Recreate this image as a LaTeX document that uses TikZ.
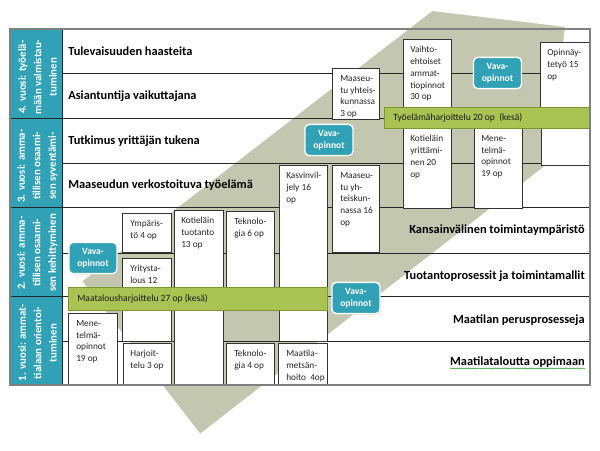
\documentclass[tikz,border=0pt]{standalone}
\usepackage{fontspec}
\setmainfont{Carlito}
\usetikzlibrary{decorations.pathmorphing, shadows}

\definecolor{yearteal}{RGB}{49,161,181}
\definecolor{bandgray}{RGB}{196,199,175}
\definecolor{bargreen}{RGB}{170,196,84}
\definecolor{barline}{RGB}{124,150,50}
\definecolor{framegray}{RGB}{128,128,128}

\tikzset{
  rowline/.style={black!85, line width=0.6pt},
  frameline/.style={framegray, line width=0.9pt},
  coursebox/.style={draw=black!80, fill=white, line width=0.6pt,
    drop shadow={shadow xshift=0.7pt, shadow yshift=-0.7pt, opacity=0.3}},
  coursetext/.style={anchor=north west, inner sep=0pt, align=left, text=black!85, font=\fontsize{6.6}{8.4}\selectfont},
  rowlabel/.style={inner sep=0pt, font=\fontsize{8.8}{10}\selectfont\bfseries},
  yeartext/.style={rotate=90, align=center, text=white, inner sep=0pt, font=\fontsize{7.7}{11}\selectfont\bfseries},
  vavabox/.style={draw=white, line width=1pt, fill=yearteal, rounded corners=3pt, minimum width=1.2cm, minimum height=0.78cm, align=center, text=white, inner sep=0pt, font=\fontsize{6.8}{8.8}\selectfont\bfseries,
    drop shadow={shadow xshift=0.7pt, shadow yshift=-0.7pt, opacity=0.3}},
  harjbar/.style={draw=barline, fill=bargreen, line width=0.6pt},
  bartext/.style={anchor=west, inner sep=0pt, text=black!90, font=\fontsize{6.8}{8}\selectfont},
}

\begin{document}
\begin{tikzpicture}[x=0.025cm, y=-0.025cm]
	\useasboundingbox[fill=white] (0,0) rectangle (600,450);
	
	% diagonal band behind the table
	\fill[bandgray] (81,281) -- (432,10) -- (566,26) -- (550,163) -- (200,435) -- cycle;
	\draw[white, line width=1.3pt] (81,281) -- (432,10) -- (566,26) -- (550,163) -- (200,435) -- cycle;
	
	% year column
	\fill[yearteal] (10,29) rectangle (62,385);
	
	% row lines
	\foreach \y in {73,163,253,341}
		\draw[rowline] (62,\y) -- (590,\y);
	\foreach \y in {118,207,296}
		\draw[rowline] (10,\y) -- (590,\y);
	\draw[rowline] (62,29) -- (62,385);
	
	% course boxes
	\draw[coursebox] (332,68) rectangle (379,119);
	\draw[coursebox] (403,39) rectangle (451,107);
	\draw[coursebox] (540,42) rectangle (590,107);
	\draw[coursebox] (403,128) rectangle (451,208);
	\draw[coursebox] (474,128) rectangle (522,208);
	\draw[coursebox] (541,128) rectangle (590,165);
	\draw[coursebox] (279,165) rectangle (327,341);
	\draw[coursebox] (332,165) rectangle (379,252);
	\draw[coursebox] (226,211) rectangle (274,287);
	\draw[coursebox] (174,210) rectangle (223,385);
	\draw[coursebox] (122,213) rectangle (171,252);
	\draw[coursebox] (122,258) rectangle (171,341);
	\draw[coursebox] (68,313) rectangle (117,385);
	\draw[coursebox] (123,343) rectangle (171,385);
	\draw[coursebox] (226,343) rectangle (274,385);
	\draw[coursebox] (278,343) rectangle (327,385);
	
	\node[coursetext] (maaseutu3)  at (340,75)  {Maaseu-\\tu yhteis-\\kunnassa\\3 op};
	\node[coursetext] (vaihto)     at (410,46)  {Vaihto-\\ehtoiset\\ammat-\\tiopinnot\\30 op};
	\node[coursetext] (opinnay)    at (547,49)  {Opinnäy-\\tetyö 15\\op};
	\node[coursetext] (kotiyritt)  at (410,135) {Kotieläin\\yrittämi-\\nen 20\\op};
	\node[coursetext] (menetelma4) at (481,135) {Mene-\\telmä-\\opinnot\\19 op};
	\node[coursetext] (kasvin)     at (286,172) {Kasvinvil-\\jely 16\\op};
	\node[coursetext] (maaseutu16) at (340,172) {Maaseu-\\tu yh-\\teiskun-\\nassa 16\\op};
	\node[coursetext] (tekno6)     at (234,218) {Teknolo-\\gia 6 op};
	\node[coursetext] (kotituot)   at (181,217) {Kotieläin\\tuotanto\\13 op};
	\node[coursetext] (ymparisto)  at (130,220) {Ympäris-\\tö 4 op};
	\node[coursetext] (yritys)     at (130,265) {Yritysta-\\lous 12};
	\node[coursetext] (menetelma1) at (76,320)  {Mene-\\telmä-\\opinnot\\19 op};
	\node[coursetext] (harjoit)    at (130,350) {Harjoit-\\telu 3 op};
	\node[coursetext] (tekno4)     at (234,350) {Teknolo-\\gia 4 op};
	\node[coursetext] (metsa)      at (286,350) {Maatila-\\metsän-\\hoito\ \ 4op};
	
	% practical training bars
	\draw[harjbar] (384,107) rectangle (590,128);
	\draw[harjbar] (68,287) rectangle (327,310);
	\node[bartext] (harj4) at (393,117.5) {Työelämäharjoittelu 20 op\ \ (kesä)};
	\node[bartext] (harj1) at (77,298.5)  {Maatalousharjoittelu 27 op (kesä)};
	
	% outer frame
	\draw[frameline] (10,29) rectangle (590,385);
	
	% vava boxes
	\node[vavabox] (vava4) at (497.5,73) {Vava-\\opinnot};
	\node[vavabox] (vava3) at (329,140)  {Vava-\\opinnot};
	\node[vavabox] (vava2) at (93,258)   {Vava-\\opinnot};
	\node[vavabox] (vava1) at (356,298)  {Vava-\\opinnot};
	
	% years
	\node[yeartext] (year4) at (37.5,77)  {4. vuosi: työelä-\\mään valmistau-\\tuminen};
	\node[yeartext] (year3) at (37.5,166) {3. vuosi: amma-\\tillisen osaami-\\sen syventämi-};
	\node[yeartext] (year2) at (37.5,253) {2. vuosi: amma-\\tillisen osaami-\\sen kehittyminen};
	\node[yeartext] (year1) at (37.5,343) {1. vuosi: ammat-\\tialaan orientoi-\\tuminen};
	
	% row themes
	\node[rowlabel, anchor=west] (tulevaisuus) at (68,51)  {Tulevaisuuden haasteita};
	\node[rowlabel, anchor=west] (asiantuntija) at (68,96)  {Asiantuntija vaikuttajana};
	\node[rowlabel, anchor=west] (tutkimus)     at (68,141) {Tutkimus yrittäjän tukena};
	\node[rowlabel, anchor=west] (verkosto)     at (68,185) {Maaseudun verkostoituva työelämä};
	\node[rowlabel, anchor=east] (kansainv)     at (585,230) {Kansainvälinen toimintaympäristö};
	\node[rowlabel, anchor=east] (tuotanto)     at (585,276) {Tuotantoprosessit ja toimintamallit};
	\node[rowlabel, anchor=east] (perus)        at (585,320) {Maatilan perusprosesseja};
	\node[rowlabel, anchor=east] (talous)       at (585,362) {Maatilataloutta oppimaan};
	\draw[green!55!black, line width=0.3pt, decorate, decoration={snake, amplitude=0.35pt, segment length=1.6pt}]
		([yshift=-0.6pt]talous.south west) -- ([yshift=-0.6pt]talous.south east);
\end{tikzpicture}
\end{document}
